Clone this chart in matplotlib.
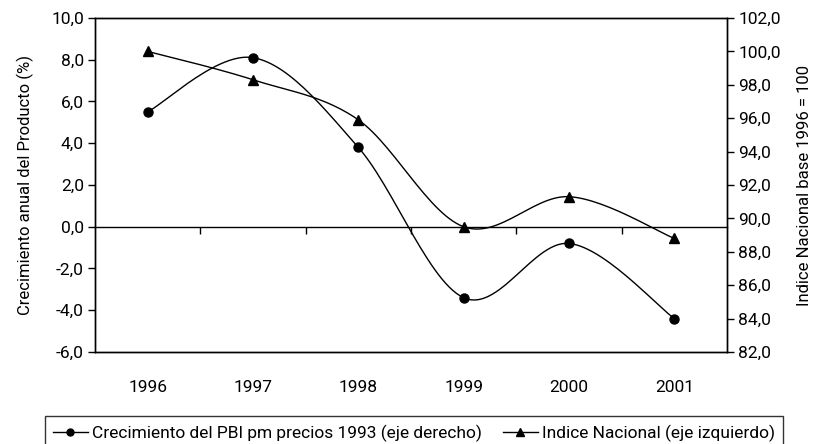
import numpy as np
import matplotlib
matplotlib.use('Agg')
import matplotlib.pyplot as plt
from matplotlib.ticker import FuncFormatter, MultipleLocator

plt.rcParams['font.family'] = ['Liberation Sans Narrow', 'Roboto', 'DejaVu Sans']

years = [1996, 1997, 1998, 1999, 2000, 2001]
pbi = [5.5, 8.1, 3.8, -3.4, -0.8, -4.4]
indice = [100.0, 98.3, 95.9, 89.5, 91.3, 88.8]

lbl_pbi = 'Crecimiento del PBI pm precios 1993 (eje derecho)'
lbl_ind = 'Indice Nacional (eje izquierdo)'


def smooth(x, y, n=30):
    # bezier smoothing like the spreadsheet one
    x = np.asarray(x, float)
    y = np.asarray(y, float)
    px = np.concatenate([[x[0]], x, [x[-1]]])
    py = np.concatenate([[y[0]], y, [y[-1]]])
    xs, ys = [], []
    t = np.linspace(0, 1, n)
    for i in range(1, len(px) - 2):
        p0 = np.array([px[i], py[i]])
        p3 = np.array([px[i + 1], py[i + 1]])
        c1 = p0 + (p3 - np.array([px[i - 1], py[i - 1]])) / 6
        c2 = p3 - (np.array([px[i + 2], py[i + 2]]) - p0) / 6
        b = ((1 - t) ** 3)[:, None] * p0 + (3 * (1 - t) ** 2 * t)[:, None] * c1 \
            + (3 * (1 - t) * t ** 2)[:, None] * c2 + (t ** 3)[:, None] * p3
        xs.extend(b[:, 0])
        ys.extend(b[:, 1])
    return xs, ys


fmt = FuncFormatter(lambda v, p: f'{v:.1f}'.replace('.', ','))

fig = plt.figure(figsize=(8.23, 4.44), dpi=100)
ax = fig.add_axes([0.1154, 0.2072, 0.768, 0.7523])
ax2 = ax.twinx()

ax.set_xlim(1995.5, 2001.5)
ax.set_ylim(-6, 10)
ax2.set_ylim(82, 102)

sx, sy = smooth(years, pbi)
ax.plot(sx, sy, color='black', lw=1)
ax.plot(years, pbi, 'o', color='black', ms=6.5)

tx, ty = smooth(years, indice)
ax2.plot(tx, ty, color='black', lw=1)
ax2.plot(years, indice, '^', color='black', ms=7.5)

ax.yaxis.set_major_locator(MultipleLocator(2))
ax.yaxis.set_major_formatter(fmt)
ax2.yaxis.set_major_locator(MultipleLocator(2))
ax2.yaxis.set_major_formatter(fmt)
ax.tick_params(axis='y', direction='out', length=5, width=1, labelsize=12.5, pad=3)
ax2.tick_params(axis='y', direction='out', length=5, width=1, labelsize=12.5, pad=3)

ax.set_xticks(years)
ax.tick_params(axis='x', length=0, labelsize=12.5, pad=20)

# zero line with category ticks
zx = ax.secondary_xaxis(0, transform=ax.transData)
zx.set_xticks([1996.5, 1997.5, 1998.5, 1999.5, 2000.5])
zx.set_xticklabels([])
zx.tick_params(direction='out', length=5, width=1)
zx.spines['bottom'].set_linewidth(1)

for a in (ax, ax2):
    for s in a.spines.values():
        s.set_linewidth(1)
        s.set_color('black')

ax.set_ylabel('Crecimiento anual del Producto (%)', fontsize=12, labelpad=12)
ax2.set_ylabel('Indice Nacional base 1996 = 100', fontsize=12, labelpad=12)

h1 = plt.Line2D([], [], color='black', lw=1, marker='o', ms=5)
h2 = plt.Line2D([], [], color='black', lw=1, marker='^', ms=6)
leg = fig.legend([h1, h2], [lbl_pbi, lbl_ind], loc='lower center', ncol=2,
                 bbox_to_anchor=(0.503, -0.012), fontsize=12.5, frameon=True,
                 fancybox=False, edgecolor='black', handlelength=2.0,
                 handletextpad=0.25, columnspacing=1.2, borderpad=0.45,
                 borderaxespad=0)
leg.get_frame().set_linewidth(1)

fig.savefig('out.png', dpi=100)
plt.close(fig)
